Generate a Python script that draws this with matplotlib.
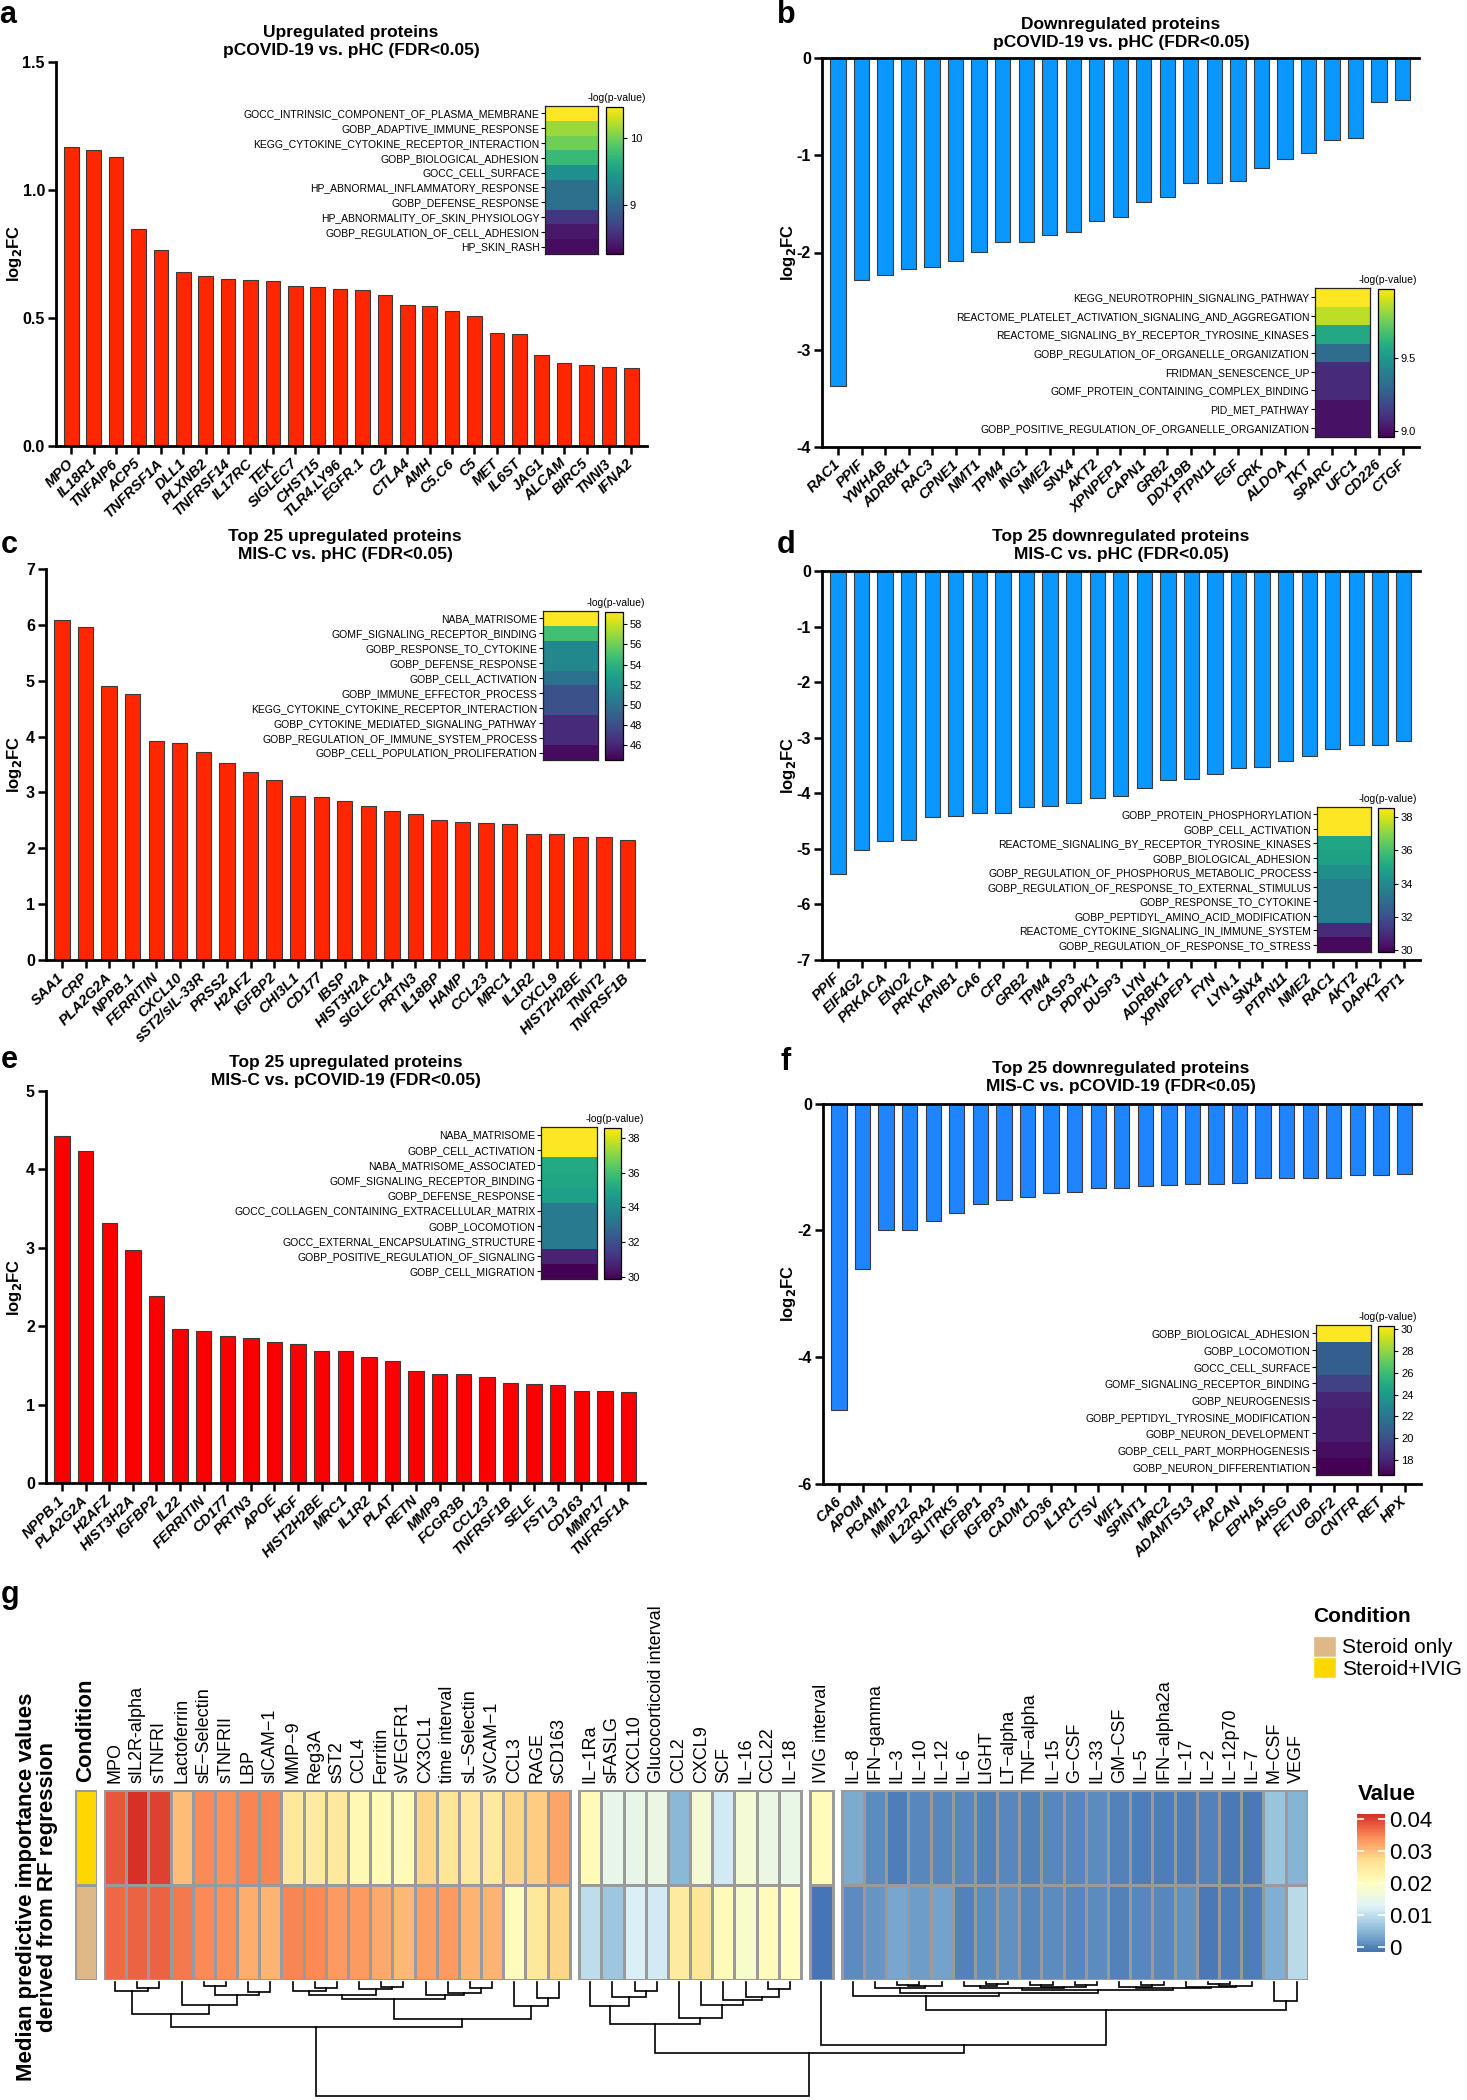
import numpy as np
import matplotlib
matplotlib.use("Agg")
import matplotlib.pyplot as plt
from matplotlib.colors import LinearSegmentedColormap, ListedColormap
from matplotlib.patches import Patch

plt.rcParams["font.family"] = ["Liberation Sans", "DejaVu Sans"]

W, H = 1467, 2100

# ---------------- bar panel data ----------------
a_genes = ["MPO", "IL18R1", "TNFAIP6", "ACP5", "TNFRSF1A", "DLL1", "PLXNB2", "TNFRSF14", "IL17RC",
           "TEK", "SIGLEC7", "CHST15", "TLR4.LY96", "EGFR.1", "C2", "CTLA4", "AMH", "C5.C6", "C5",
           "MET", "IL6ST", "JAG1", "ALCAM", "BIRC5", "TNNI3", "IFNA2"]
a_fc = [1.166, 1.156, 1.127, 0.846, 0.766, 0.679, 0.662, 0.650, 0.648, 0.642, 0.626, 0.622, 0.614,
        0.608, 0.588, 0.550, 0.546, 0.527, 0.509, 0.440, 0.435, 0.356, 0.323, 0.315, 0.310, 0.306]

b_genes = ["RAC1", "PPIF", "YWHAB", "ADRBK1", "RAC3", "CPNE1", "NMT1", "TPM4", "ING1", "NME2", "SNX4",
           "AKT2", "XPNPEP1", "CAPN1", "GRB2", "DDX19B", "PTPN11", "EGF", "CRK", "ALDOA", "TKT",
           "SPARC", "UFC1", "CD226", "CTGF"]
b_fc = [-3.375, -2.287, -2.235, -2.165, -2.144, -2.089, -1.991, -1.897, -1.894, -1.818, -1.793,
        -1.672, -1.633, -1.477, -1.432, -1.289, -1.289, -1.262, -1.136, -1.036, -0.977, -0.844,
        -0.820, -0.448, -0.431]

c_genes = ["SAA1", "CRP", "PLA2G2A", "NPPB.1", "FERRITIN", "CXCL10", "sST2/sIL-33R", "PRSS2", "H2AFZ",
           "IGFBP2", "CHI3L1", "CD177", "IBSP", "HIST3H2A", "SIGLEC14", "PRTN3", "IL18BP", "HAMP",
           "CCL23", "MRC1", "IL1R2", "CXCL9", "HIST2H2BE", "TNNT2", "TNFRSF1B"]
c_fc = [6.08, 5.97, 4.90, 4.76, 3.92, 3.88, 3.73, 3.53, 3.36, 3.22, 2.94, 2.92, 2.85, 2.76, 2.66,
        2.61, 2.51, 2.47, 2.46, 2.44, 2.25, 2.25, 2.21, 2.21, 2.14]

d_genes = ["PPIF", "EIF4G2", "PRKACA", "ENO2", "PRKCA", "KPNB1", "CA6", "CFP", "GRB2", "TPM4",
           "CASP3", "PDPK1", "DUSP3", "LYN", "ADRBK1", "XPNPEP1", "FYN", "LYN.1", "SNX4", "PTPN11",
           "NME2", "RAC1", "AKT2", "DAPK2", "TPT1"]
d_fc = [-5.45, -5.01, -4.85, -4.84, -4.43, -4.40, -4.36, -4.35, -4.25, -4.22, -4.18, -4.09, -4.04,
        -3.90, -3.76, -3.74, -3.65, -3.54, -3.53, -3.41, -3.32, -3.19, -3.12, -3.12, -3.06]

e_genes = ["NPPB.1", "PLA2G2A", "H2AFZ", "HIST3H2A", "IGFBP2", "IL22", "FERRITIN", "CD177", "PRTN3",
           "APOE", "HGF", "HIST2H2BE", "MRC1", "IL1R2", "PLAT", "RETN", "MMP9", "FCGR3B", "CCL23",
           "TNFRSF1B", "SELE", "FSTL3", "CD163", "MMP17", "TNFRSF1A"]
e_fc = [4.42, 4.23, 3.31, 2.97, 2.38, 1.96, 1.94, 1.87, 1.85, 1.80, 1.77, 1.68, 1.68, 1.61, 1.55,
        1.43, 1.39, 1.39, 1.35, 1.27, 1.26, 1.25, 1.17, 1.17, 1.16]

f_genes = ["CA6", "APOM", "PGAM1", "MMP12", "IL22RA2", "SLITRK5", "IGFBP1", "IGFBP3", "CADM1", "CD36",
           "IL1R1", "CTSV", "WIF1", "SPINT1", "MRC2", "ADAMTS13", "FAP", "ACAN", "EPHA5", "AHSG",
           "FETUB", "GDF2", "CNTFR", "RET", "HPX"]
f_fc = [-4.84, -2.61, -2.00, -1.99, -1.86, -1.72, -1.59, -1.52, -1.48, -1.41, -1.39, -1.34, -1.33,
        -1.30, -1.29, -1.27, -1.27, -1.26, -1.18, -1.18, -1.18, -1.17, -1.12, -1.12, -1.11]

# ---------------- enrichment insets (-log p) ----------------
a_terms = ["GOCC_INTRINSIC_COMPONENT_OF_PLASMA_MEMBRANE", "GOBP_ADAPTIVE_IMMUNE_RESPONSE",
           "KEGG_CYTOKINE_CYTOKINE_RECEPTOR_INTERACTION", "GOBP_BIOLOGICAL_ADHESION",
           "GOCC_CELL_SURFACE", "HP_ABNORMAL_INFLAMMATORY_RESPONSE", "GOBP_DEFENSE_RESPONSE",
           "HP_ABNORMALITY_OF_SKIN_PHYSIOLOGY", "GOBP_REGULATION_OF_CELL_ADHESION", "HP_SKIN_RASH"]
a_logp = [10.47, 10.14, 9.98, 9.76, 9.37, 9.08, 9.08, 8.59, 8.41, 8.33]

b_terms = ["KEGG_NEUROTROPHIN_SIGNALING_PATHWAY", "REACTOME_PLATELET_ACTIVATION_SIGNALING_AND_AGGREGATION",
           "REACTOME_SIGNALING_BY_RECEPTOR_TYROSINE_KINASES", "GOBP_REGULATION_OF_ORGANELLE_ORGANIZATION",
           "FRIDMAN_SENESCENCE_UP", "GOMF_PROTEIN_CONTAINING_COMPLEX_BINDING", "PID_MET_PATHWAY",
           "GOBP_POSITIVE_REGULATION_OF_ORGANELLE_ORGANIZATION"]
b_logp = [9.97, 9.87, 9.57, 9.32, 9.08, 9.08, 9.01, 9.01]

c_terms = ["NABA_MATRISOME", "GOMF_SIGNALING_RECEPTOR_BINDING", "GOBP_RESPONSE_TO_CYTOKINE",
           "GOBP_DEFENSE_RESPONSE", "GOBP_CELL_ACTIVATION", "GOBP_IMMUNE_EFFECTOR_PROCESS",
           "KEGG_CYTOKINE_CYTOKINE_RECEPTOR_INTERACTION", "GOBP_CYTOKINE_MEDIATED_SIGNALING_PATHWAY",
           "GOBP_REGULATION_OF_IMMUNE_SYSTEM_PROCESS", "GOBP_CELL_POPULATION_PROLIFERATION"]
c_logp = [59.2, 54.8, 51.4, 51.4, 50.1, 48.2, 48.2, 46.3, 46.3, 45.0]

d_terms = ["GOBP_PROTEIN_PHOSPHORYLATION", "GOBP_CELL_ACTIVATION",
           "REACTOME_SIGNALING_BY_RECEPTOR_TYROSINE_KINASES", "GOBP_BIOLOGICAL_ADHESION",
           "GOBP_REGULATION_OF_PHOSPHORUS_METABOLIC_PROCESS",
           "GOBP_REGULATION_OF_RESPONSE_TO_EXTERNAL_STIMULUS", "GOBP_RESPONSE_TO_CYTOKINE",
           "GOBP_PEPTIDYL_AMINO_ACID_MODIFICATION", "REACTOME_CYTOKINE_SIGNALING_IN_IMMUNE_SYSTEM",
           "GOBP_REGULATION_OF_RESPONSE_TO_STRESS"]
d_logp = [38.55, 38.55, 35.0, 34.8, 34.2, 33.6, 33.6, 33.6, 30.9, 30.1]

e_terms = ["NABA_MATRISOME", "GOBP_CELL_ACTIVATION", "NABA_MATRISOME_ASSOCIATED",
           "GOMF_SIGNALING_RECEPTOR_BINDING", "GOBP_DEFENSE_RESPONSE",
           "GOCC_COLLAGEN_CONTAINING_EXTRACELLULAR_MATRIX", "GOBP_LOCOMOTION",
           "GOCC_EXTERNAL_ENCAPSULATING_STRUCTURE", "GOBP_POSITIVE_REGULATION_OF_SIGNALING",
           "GOBP_CELL_MIGRATION"]
e_logp = [38.6, 38.6, 35.2, 35.0, 34.8, 33.5, 33.5, 33.5, 30.7, 29.86]

f_terms = ["GOBP_BIOLOGICAL_ADHESION", "GOBP_LOCOMOTION", "GOCC_CELL_SURFACE",
           "GOMF_SIGNALING_RECEPTOR_BINDING", "GOBP_NEUROGENESIS", "GOBP_PEPTIDYL_TYROSINE_MODIFICATION",
           "GOBP_NEURON_DEVELOPMENT", "GOBP_CELL_PART_MORPHOGENESIS", "GOBP_NEURON_DIFFERENTIATION"]
f_logp = [30.3, 20.7, 20.7, 19.3, 18.0, 17.7, 17.7, 17.1, 16.6]

# ---------------- heatmap g data ----------------
g_features = ["MPO", "sIL2R-alpha", "sTNFRI", "Lactoferrin", "sE\u2212Selectin", "sTNFRII", "LBP",
              "sICAM\u22121", "MMP\u22129", "Reg3A", "sST2", "CCL4", "Ferritin", "sVEGFR1", "CX3CL1",
              "time interval", "sL\u2212Selectin", "sVCAM\u22121", "CCL3", "RAGE", "sCD163",
              "IL\u22121Ra", "sFASLG", "CXCL10", "Glucocorticoid interval", "CCL2", "CXCL9", "SCF",
              "IL\u221216", "CCL22", "IL\u221218",
              "IVIG interval",
              "IL\u22128", "IFN\u2212gamma", "IL\u22123", "IL\u221210", "IL\u221212", "IL\u22126", "LIGHT",
              "LT\u2212alpha", "TNF\u2212alpha", "IL\u221215", "G\u2212CSF", "IL\u221233", "GM\u2212CSF",
              "IL\u22125", "IFN\u2212alpha2a", "IL\u221217", "IL\u22122", "IL\u221212p70", "IL\u22127",
              "M\u2212CSF", "VEGF"]
g_block_sizes = [21, 10, 1, 21]
g_conditions = ["Steroid+IVIG", "Steroid only"]
g_ivig = [0.0384, 0.0416, 0.0403, 0.0300, 0.0345, 0.0340, 0.0350, 0.0350, 0.0253, 0.0247, 0.0250,
          0.0213, 0.0210, 0.0210, 0.0282, 0.0260, 0.0250, 0.0250, 0.0280, 0.0287, 0.0325,
          0.0210, 0.0146, 0.0144, 0.0156, 0.0053, 0.0173, 0.0114, 0.0170, 0.0153, 0.0150,
          0.0207,
          0.0036, 0.0009, -0.0004, 0.0004, 0.0003, 0.0004, -0.0001, 0.0003, 0.0000, 0.0005, 0.0005,
          0.0006, -0.0003, -0.0007, -0.0004, -0.0007, 0.0001, -0.0008, -0.0008, 0.0065, 0.0048]
g_steroid = [0.0370, 0.0375, 0.0375, 0.0358, 0.0343, 0.0340, 0.0315, 0.0311, 0.0347, 0.0343, 0.0332,
             0.0330, 0.0319, 0.0304, 0.0326, 0.0332, 0.0310, 0.0312, 0.0205, 0.0256, 0.0280,
             0.0100, 0.0069, 0.0126, 0.0115, 0.0247, 0.0258, 0.0210, 0.0183, 0.0205, 0.0203,
             -0.0016,
             0.0009, 0.0017, 0.0032, 0.0027, 0.0030, 0.0000, 0.0009, 0.0010, 0.0005, 0.0007, 0.0004,
             0.0009, -0.0001, 0.0003, 0.0005, 0.0010, -0.0008, -0.0004, -0.0006, 0.0042, 0.0092]

# column dendrogram: (left, right, merge height); ints are column indices
g_tree = (
    (
        ((0, (1, 2, 0.057), 0.077),
         (3, ((4, 5, 0.034), (6, 7, 0.086), 0.114), 0.206), 0.28),
        ((((8, (9, 10, 0.049), 0.077), (11, (12, 13, 0.040), 0.063), 0.114),
          (14, (15, (16, 17, 0.049), 0.094), 0.114), 0.151),
         (18, (19, 20, 0.143), 0.209), 0.323),
        0.394),
    (
        ((21, (22, (23, 24, 0.077), 0.134), 0.213),
         (25, (26, (27, (28, (29, 30, 0.0625), 0.128), 0.162), 0.205), 0.318), 0.369),
        (31,
         ((32, ((33, ((34, 35, 0.025), 36, 0.035), 0.05),
                (((37, (38, 39, 0.02), 0.035), ((40, 41, 0.025), (42, 43, 0.03), 0.045), 0.055),
                 ((44, (45, 46, 0.025), 0.04), (47, ((48, 49, 0.02), 50, 0.035), 0.045), 0.05),
                 0.07), 0.094), 0.123),
          (51, 52, 0.163), 0.249),
         0.557),
        0.622),
    1.0)

fig = plt.figure(figsize=(W / 100, H / 100), dpi=100)


def px_axes(x0, y0, x1, y1):
    return fig.add_axes([x0 / W, 1 - y1 / H, (x1 - x0) / W, (y1 - y0) / H])


def ftext(x, y, s, **kw):
    return fig.text(x / W, 1 - y / H, s, **kw)


def bar_panel(box, genes, fc, color, ylim, yticks, yticklabels, title, title_xy, letter, letter_xy,
              ylab_x):
    ax = px_axes(*box)
    x = np.arange(len(genes))
    ax.bar(x, fc, width=0.65, color=color, edgecolor="#3a3a3a", linewidth=0.8, zorder=2)
    ax.set_xlim(-0.68, len(genes) - 0.3)
    ax.set_ylim(*ylim)
    down = ylim[1] == 0
    ax.spines["right"].set_visible(False)
    ax.spines["top"].set_visible(down)
    for s in ["left", "bottom", "top"]:
        ax.spines[s].set_linewidth(2.0)
    ax.set_xticks(x)
    ax.set_xticklabels(genes, rotation=45, ha="right", va="center", rotation_mode="anchor",
                       fontsize=10.5, fontweight="bold", fontstyle="italic")
    ax.set_yticks(yticks)
    ax.set_yticklabels(yticklabels, fontsize=11.5, fontweight="bold")
    ax.tick_params(axis="both", width=1.8, length=6)
    ax.tick_params(axis="x", pad=5)
    ax.tick_params(axis="y", pad=2)
    ftext(title_xy[0], title_xy[1], title, ha="center", va="center", fontsize=12.5,
          fontweight="bold", linespacing=1.25)
    ftext(letter_xy[0], letter_xy[1], letter, ha="center", va="center", fontsize=22,
          fontweight="bold")
    ftext(ylab_x, (box[1] + box[3]) / 2, "log$_\\mathbf{2}$FC",
          rotation=90, ha="center", va="center", fontsize=12, fontweight="bold")
    return ax


def enrich_inset(hm_box, cb_box, terms, logp, vmin, vmax, cticks, cticklabels):
    ax = px_axes(*hm_box)
    im = ax.imshow(np.array(logp)[:, None], cmap="viridis", vmin=vmin, vmax=vmax, aspect="auto",
                   interpolation="nearest")
    ax.set_xticks([])
    ax.set_yticks(range(len(terms)))
    ax.set_yticklabels(terms, fontsize=7.5)
    ax.tick_params(axis="y", length=3, width=0.8, pad=1)
    for s in ax.spines.values():
        s.set_linewidth(0.9)
        s.set_color("#222222")
    cax = px_axes(*cb_box)
    cb = fig.colorbar(im, cax=cax)
    cb.set_ticks(cticks)
    cb.set_ticklabels(cticklabels)
    cax.tick_params(labelsize=8, length=3, width=0.8, pad=2)
    cb.outline.set_linewidth(0.9)
    ftext((cb_box[0] + cb_box[2]) / 2 + 2, cb_box[1] - 9, "-log(p-value)", ha="center",
          va="center", fontsize=7.5)


red_a = "#FF2600"
red_e = "#FA0000"
blue_b = "#0A98FF"
blue_f = "#1F84FF"

bar_panel((56, 61.5, 647, 446), a_genes, a_fc, red_a, (0, 1.5), [0, 0.5, 1.0, 1.5],
          ["0.0", "0.5", "1.0", "1.5"], "Upregulated proteins\npCOVID-19 vs. pHC (FDR<0.05)",
          (351, 42), "a", (8, 15), 14)
enrich_inset((545, 106, 598, 254), (606, 107, 623, 254), a_terms, a_logp, 8.26, 10.47,
             [9, 10], ["9", "10"])

bar_panel((822, 58, 1419, 447), b_genes, b_fc, blue_b, (-4, 0), [-4, -3, -2, -1, 0],
          ["-4", "-3", "-2", "-1", "0"], "Downregulated proteins\npCOVID-19 vs. pHC (FDR<0.05)",
          (1121, 33), "b", (786, 15), 788)
enrich_inset((1315, 288, 1370, 437), (1378, 289, 1394, 437), b_terms, b_logp, 8.96, 9.97,
             [9.0, 9.5], ["9.0", "9.5"])

bar_panel((46, 569, 644, 960), c_genes, c_fc, red_a, (0, 7), list(range(8)),
          [str(i) for i in range(8)], "Top 25 upregulated proteins\nMIS-C vs. pHC (FDR<0.05)",
          (345, 545), "c", (9, 545), 14)
enrich_inset((543, 611, 598, 760), (605, 612, 623, 760), c_terms, c_logp, 44.56, 59.2,
             list(range(46, 59, 2)), [str(i) for i in range(46, 59, 2)])

bar_panel((822, 571.5, 1420, 960), d_genes, d_fc, blue_b, (-7, 0), list(range(-7, 1)),
          [str(i) for i in range(-7, 1)], "Top 25 downregulated proteins\nMIS-C vs. pHC (FDR<0.05)",
          (1121, 545), "d", (786, 545), 788)
enrich_inset((1317, 807, 1371, 952), (1378, 808, 1394, 952), d_terms, d_logp, 29.88, 38.55,
             list(range(30, 39, 2)), [str(i) for i in range(30, 39, 2)])

bar_panel((46, 1091, 645, 1483), e_genes, e_fc, red_e, (0, 5), list(range(6)),
          [str(i) for i in range(6)], "Top 25 upregulated proteins\nMIS-C vs. pCOVID-19 (FDR<0.05)",
          (346, 1071), "e", (9, 1060), 14)
enrich_inset((541, 1127, 597, 1279), (604, 1128, 621, 1279), e_terms, e_logp, 29.86, 38.6,
             list(range(30, 39, 2)), [str(i) for i in range(30, 39, 2)])

bar_panel((823, 1103.5, 1421, 1484), f_genes, f_fc, blue_f, (-6, 0), [-6, -4, -2, 0],
          ["-6", "-4", "-2", "0"], "Top 25 downregulated proteins\nMIS-C vs. pCOVID-19 (FDR<0.05)",
          (1121, 1078), "f", (786, 1062), 788)
enrich_inset((1316, 1325, 1371, 1475), (1378, 1326, 1394, 1475), f_terms, f_logp, 16.6, 30.3,
             list(range(18, 31, 2)), [str(i) for i in range(18, 31, 2)])

# ---------------- panel g ----------------
rdylbu = ["#4575B4", "#91BFDB", "#E0F3F8", "#FFFFBF", "#FEE090", "#FC8D59", "#D73027"]
hm_cmap = LinearSegmentedColormap.from_list("rdylbu7", rdylbu, N=100)
vals = np.array([g_ivig, g_steroid])
vmin, vmax = vals.min(), vals.max()
gap = 0.42
grid = "#9a9a9a"

hx0, hx1, hy0, hy1 = 104, 1307.7, 1790, 1980
ax_h = px_axes(hx0, hy0, hx1, hy1)
starts = np.cumsum([0] + g_block_sizes[:-1])
centers = []
for b, (s, n) in enumerate(zip(starts, g_block_sizes)):
    xe = np.arange(s, s + n + 1) + b * gap
    mesh = ax_h.pcolormesh(xe, [0, 1, 2], vals[:, s:s + n], cmap=hm_cmap, vmin=vmin, vmax=vmax,
                           edgecolors=grid, linewidth=1.0)
    centers.extend(list(xe[:-1] + 0.5))
total = sum(g_block_sizes) + gap * (len(g_block_sizes) - 1)
ax_h.set_xlim(0, total)
ax_h.set_ylim(2, 0)
ax_h.set_yticks([])
ax_h.xaxis.tick_top()
ax_h.set_xticks(centers)
ax_h.set_xticklabels(g_features, rotation=90, fontsize=13)
ax_h.tick_params(axis="x", length=0, pad=5)
for sp in ax_h.spines.values():
    sp.set_visible(False)

# condition annotation column
cond_colors = {"Steroid only": "#DEB887", "Steroid+IVIG": "#FFD700"}
ax_c = px_axes(75, hy0, 97, hy1)
ax_c.pcolormesh([0, 1], [0, 1, 2], np.arange(len(g_conditions))[:, None],
                cmap=ListedColormap([cond_colors[c] for c in g_conditions]),
                edgecolors=grid, linewidth=1.0)
ax_c.set_ylim(2, 0)
ax_c.set_xticks([])
ax_c.set_yticks([])
for sp in ax_c.spines.values():
    sp.set_visible(False)
ftext(86, 1782, "Condition", rotation=90, ha="center", va="bottom", fontsize=16,
      fontweight="bold")

# dendrogram
ax_d = px_axes(hx0, 1982, hx1, 2096)


def draw_tree(node):
    if isinstance(node, (int, np.integer)):
        return centers[node], 0.0
    left, right, h = node
    xl, hl = draw_tree(left)
    xr, hr = draw_tree(right)
    ax_d.plot([xl, xl, xr, xr], [hl, h, h, hr], color="black", lw=1.2, clip_on=False,
              solid_joinstyle="miter")
    return (xl + xr) / 2, h


draw_tree(g_tree)
ax_d.set_xlim(0, total)
ax_d.set_ylim(1.0, 0)
ax_d.axis("off")

ftext(37, 1887, "Median predictive importance values\nderived from RF regression", rotation=90,
      ha="center", va="center", fontsize=16, fontweight="bold", linespacing=1.05)
ftext(10, 1595, "g", ha="center", va="center", fontsize=22, fontweight="bold")

# legends
ftext(1313, 1617, "Condition", ha="left", va="center", fontsize=15, fontweight="bold")
handles = [Patch(facecolor=cond_colors[c], edgecolor="white") for c in ["Steroid only", "Steroid+IVIG"]]
leg = fig.legend(handles, ["Steroid only", "Steroid+IVIG"], loc="upper left",
                 bbox_to_anchor=(1313 / W, 1 - 1636 / H), frameon=False, fontsize=15,
                 handlelength=1.1, handleheight=1.15, handletextpad=0.3, labelspacing=0.0,
                 borderaxespad=0, borderpad=0)

cax = px_axes(1357, 1814, 1385, 1952)
cb = fig.colorbar(mesh, cax=cax)
cb.set_ticks([0, 0.01, 0.02, 0.03, 0.04])
cb.set_ticklabels(["0", "0.01", "0.02", "0.03", "0.04"])
cb.outline.set_visible(False)
cax.tick_params(axis="y", direction="in", color="white", length=5, width=1.2, left=True,
                right=True, labelsize=16, pad=3)
ftext(1358, 1795, "Value", ha="left", va="center", fontsize=16, fontweight="bold")

fig.savefig("out.png", dpi=100)
